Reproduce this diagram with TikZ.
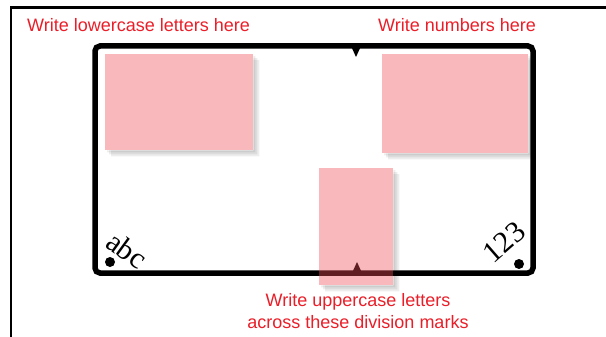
\documentclass[tikz,border=0pt]{standalone}
\usepackage{fontspec}
\setmainfont{Liberation Sans}
\newfontfamily\glyphfont{Liberation Serif}
\usepackage{xcolor}
\definecolor{hintred}{RGB}{234,30,40}
\definecolor{padpink}{RGB}{237,77,87}
\usepackage{tikz}
\usetikzlibrary{positioning,calc}

\begin{document}
\begin{tikzpicture}[x=1pt,y=-1pt,
  card/.style={draw,line width=5.5pt,rounded corners=5pt,inner sep=0pt},
  pad/.style={fill=padpink,fill opacity=0.4,inner sep=0pt,anchor=north west},
  hint/.style={text=hintred,font=\fontsize{18}{22}\selectfont,inner sep=0pt},
  glyph/.style={font=\glyphfont\fontsize{30}{30}\selectfont,inner sep=0pt},
  dot/.style={circle,fill=black,inner sep=0pt,minimum size=10pt}]
  \useasboundingbox (0,0) rectangle (606,337);
  \draw[line width=2.5pt] (11,337) |- (606,7.5);
  % letter card
  \node[card,minimum width=438pt,minimum height=227pt](card) at (314,159.5){};
  \coordinate (topmark) at (356,46);
  \coordinate (botmark) at (357,273);
  \fill (topmark) ++(-5,0) -- ++(10,0) -- ++(-5,11) -- cycle;
  \fill (botmark) ++(-5,0) -- ++(10,0) -- ++(-5,-11) -- cycle;
  % writing areas
  \node[pad,minimum width=148pt,minimum height=96pt](lowbox) at (105,54){};
  \node[pad,minimum width=146pt,minimum height=99pt](numbox) at (382,54){};
  \node[pad,minimum width=74pt,minimum height=117pt](capbox) at (319,168){};
  \foreach \b in {lowbox,numbox,capbox}
    \foreach \s in {2,4,6}
      \fill[black,opacity=0.07]
        ($(\b.north east)+(0,\s)$) -- ($(\b.north east)+(\s,\s)$)
        -- ($(\b.south east)+(\s,\s)$) -- ($(\b.south west)+(\s,\s)$)
        -- ($(\b.south west)+(\s,0)$) -- (\b.south east) -- cycle;
  \node[glyph,rotate=-36](lower) at (127,250){abc};
  \node[glyph,rotate=41](digits) at (504,242){123};
  \node[dot](ldot) at (110,262){};
  \node[dot](rdot) at (519,264){};
  % hints
  \node[hint,anchor=west](lowhint) at (27,25){Write lowercase letters here};
  \node[hint,anchor=west](numhint) at (378,25){Write numbers here};
  \node[hint,align=center](caphint) at (358,311){Write uppercase letters\\across these division marks};
\end{tikzpicture}
\end{document}
